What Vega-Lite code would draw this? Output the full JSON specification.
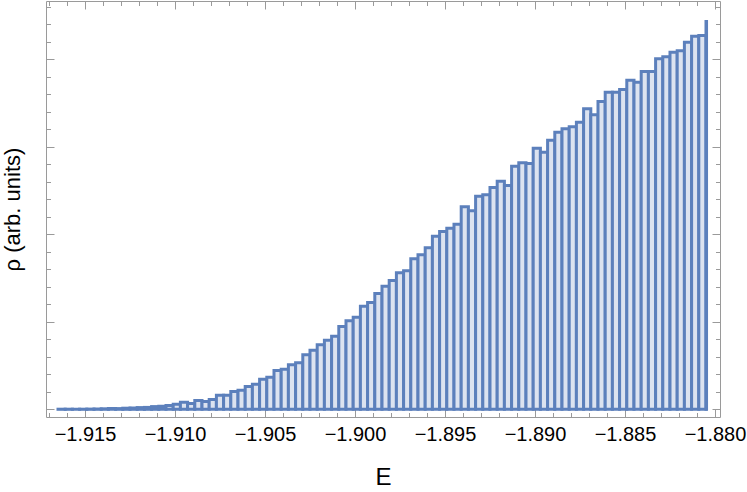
{
  "$schema": "https://vega.github.io/schema/vega-lite/v6.json",
  "width": 674,
  "height": 416,
  "autosize": "none",
  "padding": {"left": 46, "top": 1, "right": 27, "bottom": 75},
  "background": "white",
  "config": {
    "view": {"stroke": null},
    "axis": {
      "grid": false,
      "domainColor": "#9a9a9a",
      "tickColor": "#9a9a9a",
      "domainWidth": 1,
      "tickWidth": 1,
      "labelFont": "Liberation Sans",
      "titleFont": "Liberation Sans",
      "labelColor": "#000000",
      "titleColor": "#000000",
      "titleFontWeight": "normal"
    }
  },
  "data": {
    "values": [
      {"a": -1.9165, "b": -1.9161, "v": 0.1},
      {"a": -1.9161, "b": -1.9157, "v": 0.1},
      {"a": -1.9157, "b": -1.9153, "v": 0.1},
      {"a": -1.9153, "b": -1.9149, "v": 0.1},
      {"a": -1.9149, "b": -1.9145, "v": 0.2},
      {"a": -1.9145, "b": -1.9141, "v": 0.3},
      {"a": -1.9141, "b": -1.9137, "v": 0.5},
      {"a": -1.9137, "b": -1.9133, "v": 0.8},
      {"a": -1.9133, "b": -1.9129, "v": 0.7},
      {"a": -1.9129, "b": -1.9125, "v": 1.1},
      {"a": -1.9125, "b": -1.9121, "v": 1.3},
      {"a": -1.9121, "b": -1.9117, "v": 1.7},
      {"a": -1.9117, "b": -1.9113, "v": 1.9},
      {"a": -1.9113, "b": -1.9109, "v": 2.7},
      {"a": -1.9109, "b": -1.9105, "v": 3.1},
      {"a": -1.9105, "b": -1.9101, "v": 3.7},
      {"a": -1.9101, "b": -1.9097, "v": 5.1},
      {"a": -1.9097, "b": -1.9093, "v": 7.1},
      {"a": -1.9093, "b": -1.9089, "v": 5.8},
      {"a": -1.9089, "b": -1.9085, "v": 8.8},
      {"a": -1.9085, "b": -1.9081, "v": 7.8},
      {"a": -1.9081, "b": -1.9077, "v": 9.8},
      {"a": -1.9077, "b": -1.9073, "v": 14.1},
      {"a": -1.9073, "b": -1.9069, "v": 14.1},
      {"a": -1.9069, "b": -1.9065, "v": 17.8},
      {"a": -1.9065, "b": -1.9061, "v": 19.1},
      {"a": -1.9061, "b": -1.9057, "v": 22.8},
      {"a": -1.9057, "b": -1.9053, "v": 25.1},
      {"a": -1.9053, "b": -1.9049, "v": 30.1},
      {"a": -1.9049, "b": -1.9045, "v": 32.1},
      {"a": -1.9045, "b": -1.9041, "v": 38.8},
      {"a": -1.9041, "b": -1.9037, "v": 40.1},
      {"a": -1.9037, "b": -1.9033, "v": 44.5},
      {"a": -1.9033, "b": -1.9029, "v": 46.5},
      {"a": -1.9029, "b": -1.9025, "v": 54.5},
      {"a": -1.9025, "b": -1.9021, "v": 59.1},
      {"a": -1.9021, "b": -1.9017, "v": 64.5},
      {"a": -1.9017, "b": -1.9013, "v": 69.1},
      {"a": -1.9013, "b": -1.9009, "v": 73.1},
      {"a": -1.9009, "b": -1.9005, "v": 82.8},
      {"a": -1.9005, "b": -1.9001, "v": 88.5},
      {"a": -1.9001, "b": -1.8997, "v": 92.1},
      {"a": -1.8997, "b": -1.8993, "v": 103.1},
      {"a": -1.8993, "b": -1.8989, "v": 106.8},
      {"a": -1.8989, "b": -1.8985, "v": 115.8},
      {"a": -1.8985, "b": -1.8981, "v": 123.1},
      {"a": -1.8981, "b": -1.8977, "v": 128.8},
      {"a": -1.8977, "b": -1.8973, "v": 136.5},
      {"a": -1.8973, "b": -1.8969, "v": 138.5},
      {"a": -1.8969, "b": -1.8965, "v": 150.5},
      {"a": -1.8965, "b": -1.8961, "v": 154.5},
      {"a": -1.8961, "b": -1.8957, "v": 161.5},
      {"a": -1.8957, "b": -1.8953, "v": 173.1},
      {"a": -1.8953, "b": -1.8949, "v": 177.8},
      {"a": -1.8949, "b": -1.8945, "v": 181.1},
      {"a": -1.8945, "b": -1.8941, "v": 185.1},
      {"a": -1.8941, "b": -1.8937, "v": 202.5},
      {"a": -1.8937, "b": -1.8933, "v": 198.5},
      {"a": -1.8933, "b": -1.8929, "v": 213.1},
      {"a": -1.8929, "b": -1.8925, "v": 214.5},
      {"a": -1.8925, "b": -1.8921, "v": 221.8},
      {"a": -1.8921, "b": -1.8917, "v": 228.1},
      {"a": -1.8917, "b": -1.8913, "v": 223.8},
      {"a": -1.8913, "b": -1.8909, "v": 243.1},
      {"a": -1.8909, "b": -1.8905, "v": 246.5},
      {"a": -1.8905, "b": -1.8901, "v": 245.8},
      {"a": -1.8901, "b": -1.8897, "v": 261.1},
      {"a": -1.8897, "b": -1.8893, "v": 257.1},
      {"a": -1.8893, "b": -1.8889, "v": 269.1},
      {"a": -1.8889, "b": -1.8885, "v": 277.1},
      {"a": -1.8885, "b": -1.8881, "v": 280.5},
      {"a": -1.8881, "b": -1.8877, "v": 282.5},
      {"a": -1.8877, "b": -1.8873, "v": 287.1},
      {"a": -1.8873, "b": -1.8869, "v": 300.5},
      {"a": -1.8869, "b": -1.8865, "v": 294.5},
      {"a": -1.8865, "b": -1.8861, "v": 307.8},
      {"a": -1.8861, "b": -1.8857, "v": 317.1},
      {"a": -1.8857, "b": -1.8853, "v": 317.1},
      {"a": -1.8853, "b": -1.8849, "v": 319.8},
      {"a": -1.8849, "b": -1.8845, "v": 329.1},
      {"a": -1.8845, "b": -1.8841, "v": 327.1},
      {"a": -1.8841, "b": -1.8837, "v": 337.8},
      {"a": -1.8837, "b": -1.8833, "v": 337.8},
      {"a": -1.8833, "b": -1.8829, "v": 350.5},
      {"a": -1.8829, "b": -1.8825, "v": 352.5},
      {"a": -1.8825, "b": -1.8821, "v": 357.1},
      {"a": -1.8821, "b": -1.8817, "v": 358.5},
      {"a": -1.8817, "b": -1.8813, "v": 367.1},
      {"a": -1.8813, "b": -1.8809, "v": 373.1},
      {"a": -1.8809, "b": -1.8805, "v": 373.8},
      {"a": -1.8805, "b": -1.88047, "v": 387.8}
    ]
  },
  "layer": [
    {
      "mark": {"type": "bar", "fill": "#dce3f0", "stroke": "#5c80bc", "strokeWidth": 3},
      "encoding": {
        "x": {
          "field": "a",
          "type": "quantitative",
          "scale": {"domain": [-1.9171667, -1.8797222], "nice": false, "zero": false},
          "axis": {
            "orient": "bottom",
            "values": [-1.917, -1.916, -1.915, -1.914, -1.913, -1.912, -1.911, -1.91, -1.909, -1.908, -1.907, -1.906, -1.905, -1.904, -1.903, -1.902, -1.901, -1.9, -1.899, -1.898, -1.897, -1.896, -1.895, -1.894, -1.893, -1.892, -1.891, -1.89, -1.889, -1.888, -1.887, -1.886, -1.885, -1.884, -1.883, -1.882, -1.881, -1.88],
            "tickSize": {"condition": {"test": "abs(datum.value*200 - round(datum.value*200)) < 0.01", "value": -8}, "value": -4.5},
            "labelExpr": "abs(datum.value*200 - round(datum.value*200)) < 0.01 ? '\u2212' + format(abs(datum.value), '.3f') : ''",
            "labelFontSize": 20,
            "labelPadding": 15,
            "labelOverlap": false,
            "labelFlush": false,
            "title": "E",
            "titleFontSize": 24,
            "titlePadding": 18
          }
        },
        "x2": {"field": "b"},
        "y": {
          "field": "v",
          "type": "quantitative",
          "scale": {"domain": [-7.7, 408.3], "nice": false, "zero": false},
          "axis": {
            "orient": "left",
            "values": [0, 17.5, 35, 52.5, 70, 87.5, 105, 122.5, 140, 157.5, 175, 192.5, 210, 227.5, 245, 262.5, 280, 297.5, 315, 332.5, 350, 367.5, 385, 402.5],
            "tickSize": {"condition": {"test": "abs(datum.value/87.5 - round(datum.value/87.5)) < 0.01", "value": -8}, "value": -4.5},
            "labels": false,
            "title": "ρ (arb. units)",
            "titleFontSize": 22,
            "titlePadding": 21
          }
        },
        "y2": {"datum": 0}
      }
    },
    {
      "mark": {"type": "bar", "opacity": 0},
      "encoding": {
        "x": {
          "field": "a",
          "type": "quantitative",
          "scale": {"domain": [-1.9171667, -1.8797222], "nice": false, "zero": false},
          "axis": {
            "orient": "top",
            "values": [-1.917, -1.916, -1.915, -1.914, -1.913, -1.912, -1.911, -1.91, -1.909, -1.908, -1.907, -1.906, -1.905, -1.904, -1.903, -1.902, -1.901, -1.9, -1.899, -1.898, -1.897, -1.896, -1.895, -1.894, -1.893, -1.892, -1.891, -1.89, -1.889, -1.888, -1.887, -1.886, -1.885, -1.884, -1.883, -1.882, -1.881, -1.88],
            "tickSize": {"condition": {"test": "abs(datum.value*200 - round(datum.value*200)) < 0.01", "value": -8}, "value": -4.5},
            "labels": false,
            "title": null
          }
        },
        "x2": {"field": "b"},
        "y": {
          "field": "v",
          "type": "quantitative",
          "scale": {"domain": [-7.7, 408.3], "nice": false, "zero": false},
          "axis": {
            "orient": "right",
            "values": [0, 17.5, 35, 52.5, 70, 87.5, 105, 122.5, 140, 157.5, 175, 192.5, 210, 227.5, 245, 262.5, 280, 297.5, 315, 332.5, 350, 367.5, 385, 402.5],
            "tickSize": {"condition": {"test": "abs(datum.value/87.5 - round(datum.value/87.5)) < 0.01", "value": -8}, "value": -4.5},
            "labels": false,
            "title": null
          }
        },
        "y2": {"datum": 0}
      }
    }
  ],
  "resolve": {"axis": {"x": "independent", "y": "independent"}}
}
